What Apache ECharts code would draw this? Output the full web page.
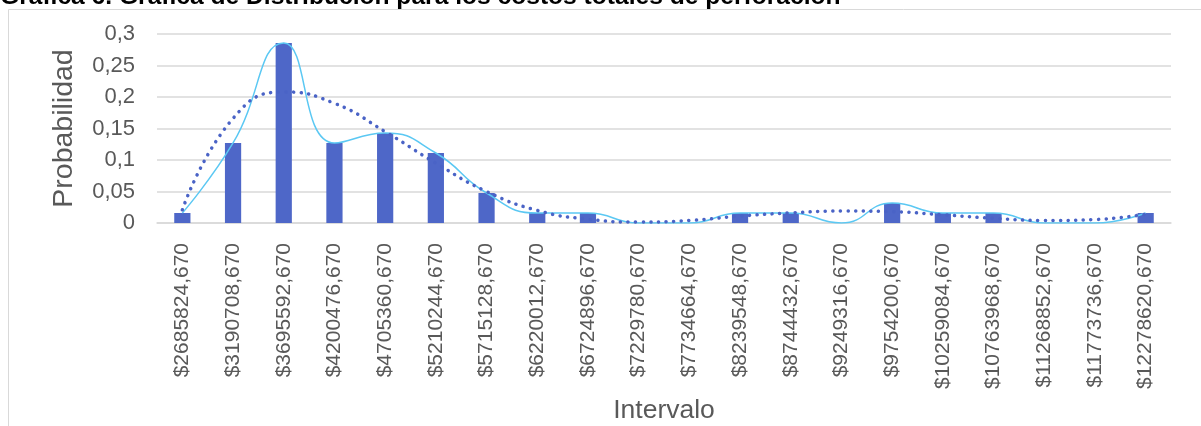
<!DOCTYPE html>
<html>
<head>
<meta charset="utf-8">
<script src="https://cdn.jsdelivr.net/npm/echarts@6/dist/echarts.min.js"></script>
<style>
  html, body { margin: 0; padding: 0; background: #ffffff; }
  #chart { width: 1201px; height: 426px; }
</style>
</head>
<body>
<div id="chart"></div>
<script>
// Interval lower bounds (category axis)
const intervals = [
  '$2685824,670', '$3190708,670', '$3695592,670', '$4200476,670', '$4705360,670',
  '$5210244,670', '$5715128,670', '$6220012,670', '$6724896,670', '$7229780,670',
  '$7734664,670', '$8239548,670', '$8744432,670', '$9249316,670', '$9754200,670',
  '$10259084,670', '$10763968,670', '$11268852,670', '$11773736,670', '$12278620,670'
];

// Relative frequency of each interval
const probability = [
  0.0159, 0.127, 0.2857, 0.127, 0.1429,
  0.1111, 0.0476, 0.0159, 0.0159, 0,
  0, 0.0159, 0.0159, 0, 0.0317,
  0.0159, 0.0159, 0, 0, 0.0159
];

// Polynomial trend line values at each interval
const trend = [
  0.021, 0.166, 0.208, 0.190, 0.145,
  0.095, 0.050, 0.020, 0.006, 0.0015,
  0.004, 0.011, 0.016, 0.019, 0.018,
  0.013, 0.0075, 0.004, 0.0055, 0.014
];

// Y axis tick labels
const yTicks = ['0', '0,05', '0,1', '0,15', '0,2', '0,25', '0,3'];

const FONT = 'Liberation Sans, Arial, sans-serif';
const chart = echarts.init(document.getElementById('chart'));

chart.setOption({
  animation: false,
  backgroundColor: '#ffffff',
  graphic: [
    {
      type: 'rect',
      silent: true,
      shape: { x: 8.5, y: 9.5, width: 1400, height: 600 },
      style: { fill: 'none', stroke: '#d9d9d9', lineWidth: 1 }
    },
    {
      type: 'text',
      left: 0,
      top: -15,
      style: {
        text: 'Gráfica 6. Gráfica de Distribución para los costos totales de perforación',
        font: 'bold 24.6px ' + FONT,
        fill: '#000000'
      }
    }
  ],
  grid: { left: 157, right: 30, top: 34, bottom: 203, containLabel: false },
  xAxis: {
    type: 'category',
    data: intervals,
    boundaryGap: true,
    name: 'Intervalo',
    nameLocation: 'middle',
    nameGap: 174,
    nameTextStyle: { fontFamily: FONT, fontSize: 26.5, color: '#595959' },
    axisLine: { show: true, lineStyle: { color: '#d9d9d9', width: 1.5 } },
    axisTick: { show: false },
    axisLabel: {
      rotate: 90,
      interval: 0,
      margin: 20,
      fontFamily: FONT,
      fontSize: 21,
      color: '#595959'
    }
  },
  yAxis: {
    type: 'value',
    min: 0,
    max: 0.3,
    interval: 0.05,
    name: 'Probabilidad',
    nameLocation: 'middle',
    nameGap: 78,
    nameTextStyle: { fontFamily: FONT, fontSize: 28.5, color: '#595959' },
    axisLine: { show: false },
    axisTick: { show: false },
    splitLine: { lineStyle: { color: '#d9d9d9', width: 1.5 } },
    axisLabel: {
      margin: 22,
      fontFamily: FONT,
      fontSize: 22,
      color: '#595959',
      formatter: function (v) {
        const i = Math.round(v / 0.05);
        return yTicks[i] !== undefined ? yTicks[i] : '';
      }
    }
  },
  series: [
    {
      type: 'bar',
      data: probability,
      barWidth: '32%',
      itemStyle: { color: '#4e67c8' },
      z: 2
    },
    {
      type: 'line',
      data: probability,
      smooth: 0.5,
      symbol: 'none',
      lineStyle: { color: '#5bc8f3', width: 1.5 },
      z: 3
    },
    {
      type: 'line',
      data: trend,
      smooth: 0.5,
      symbol: 'none',
      lineStyle: { color: '#4a63c6', width: 3.5, type: [0.1, 7.5], cap: 'round' },
      z: 4
    }
  ]
});
</script>
</body>
</html>
